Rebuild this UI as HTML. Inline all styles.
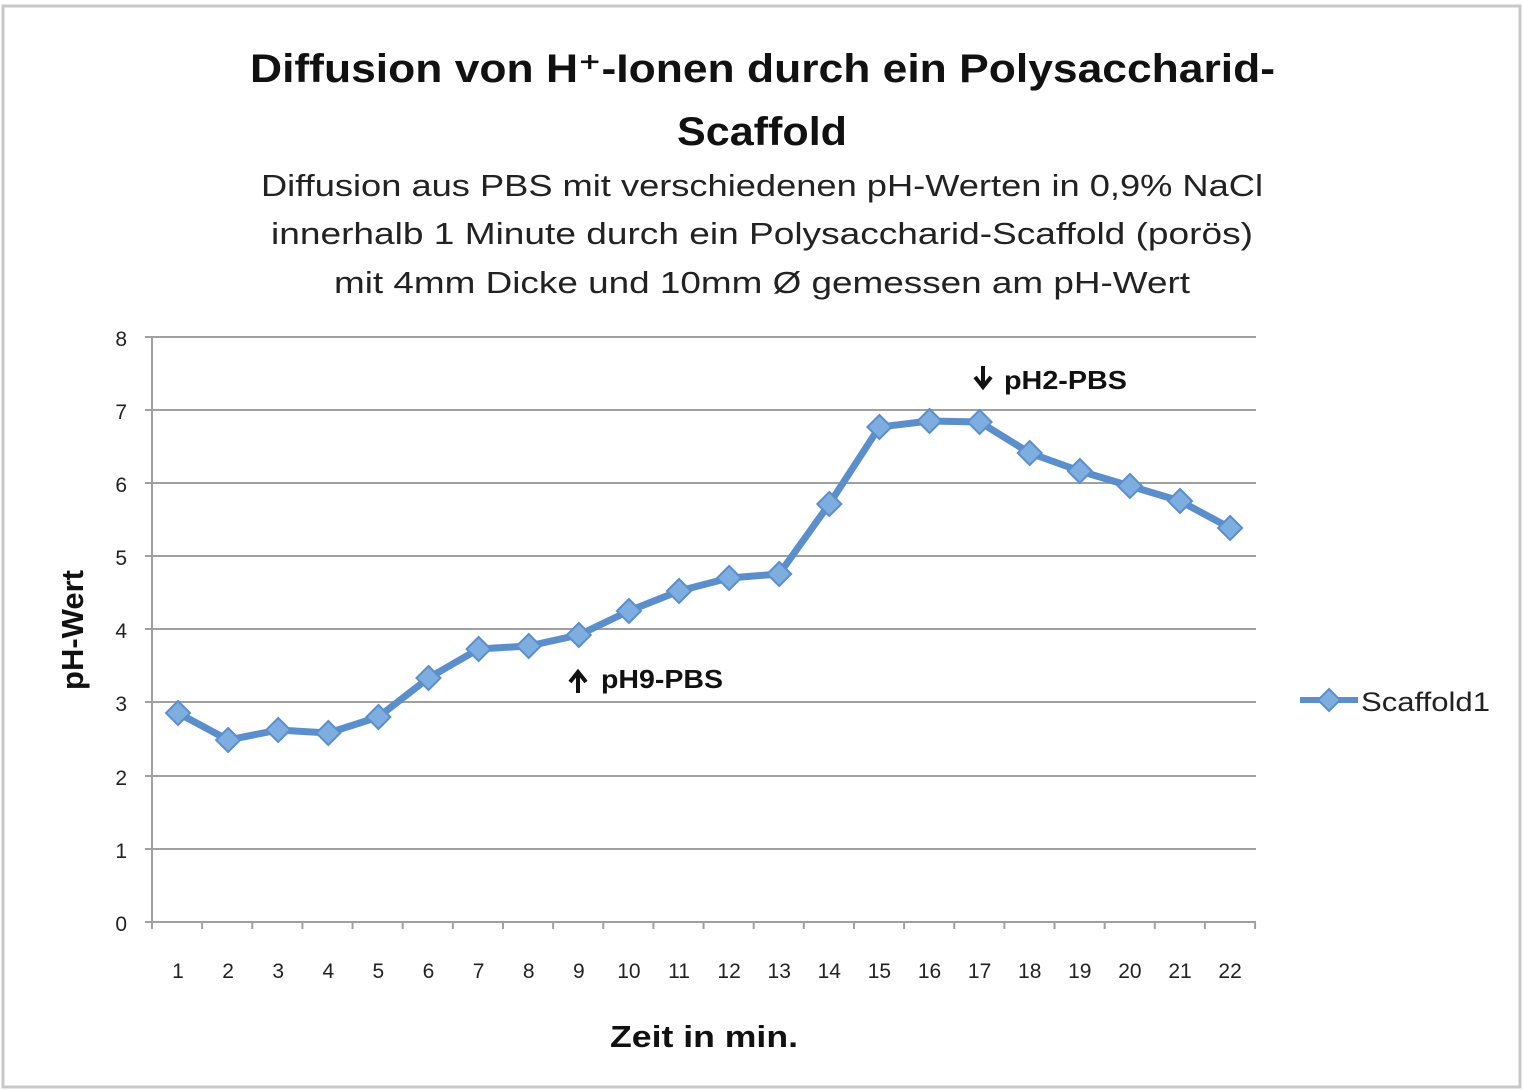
<!DOCTYPE html>
<html><head><meta charset="utf-8"><style>
html,body{margin:0;padding:0;background:#fff;}
svg{display:block;font-family:"Liberation Sans","DejaVu Sans",sans-serif;}
</style></head><body>
<svg width="1523" height="1090" viewBox="0 0 1523 1090" xmlns="http://www.w3.org/2000/svg">
<rect x="0" y="0" width="1523" height="1090" fill="#fff"/>
<rect x="3" y="6" width="1517" height="1081" fill="none" stroke="#c8c8c8" stroke-width="3"/>
<text x="250" y="82" textLength="1025" lengthAdjust="spacingAndGlyphs" font-size="40" font-weight="bold" fill="#111">Diffusion von H⁺-Ionen durch ein Polysaccharid-</text>
<text x="677" y="145" textLength="170" lengthAdjust="spacingAndGlyphs" font-size="40" font-weight="bold" fill="#111">Scaffold</text>
<text x="261" y="196" textLength="1002" lengthAdjust="spacingAndGlyphs" font-size="31" fill="#222">Diffusion aus PBS mit verschiedenen pH-Werten in 0,9% NaCl</text>
<text x="271" y="244" textLength="982" lengthAdjust="spacingAndGlyphs" font-size="31" fill="#222">innerhalb 1 Minute durch ein Polysaccharid-Scaffold (porös)</text>
<text x="334" y="293" textLength="856" lengthAdjust="spacingAndGlyphs" font-size="31" fill="#222">mit 4mm Dicke und 10mm Ø gemessen am pH-Wert</text>
<g stroke="#a0a0a0" stroke-width="2">
<line x1="145" y1="337" x2="1256" y2="337"/>
<line x1="145" y1="410" x2="1256" y2="410"/>
<line x1="145" y1="483" x2="1256" y2="483"/>
<line x1="145" y1="556" x2="1256" y2="556"/>
<line x1="145" y1="629" x2="1256" y2="629"/>
<line x1="145" y1="702" x2="1256" y2="702"/>
<line x1="145" y1="776" x2="1256" y2="776"/>
<line x1="145" y1="849" x2="1256" y2="849"/>
<line x1="145" y1="922" x2="1256" y2="922"/>
<line x1="152" y1="337" x2="152" y2="929"/>
</g>
<g stroke="#a0a0a0" stroke-width="2" id="ticks"></g>
<g font-size="21" fill="#222" text-anchor="end">
<text x="127" y="346">8</text><text x="127" y="419">7</text><text x="127" y="492">6</text><text x="127" y="565">5</text><text x="127" y="638">4</text><text x="127" y="711">3</text><text x="127" y="785">2</text><text x="127" y="858">1</text><text x="127" y="931">0</text>
</g>
<g font-size="21" fill="#222" text-anchor="middle" id="xl"></g>
<text x="610" y="1047" textLength="188" lengthAdjust="spacingAndGlyphs" font-size="31" font-weight="bold" fill="#111">Zeit in min.</text>
<text transform="translate(83,630) rotate(-90)" text-anchor="middle" font-size="31" font-weight="bold" fill="#111">pH-Wert</text>
<polyline id="ln" fill="none" stroke="#5b8fcc" stroke-width="7" stroke-linejoin="round"/>
<g id="mk" fill="#7eaee0" stroke="#5b8fcc" stroke-width="2"></g>
<path d="M983,366 V384 M975,377 L983,387 L991,377" fill="none" stroke="#111" stroke-width="4"/>
<text x="1004" y="389" textLength="123" lengthAdjust="spacingAndGlyphs" font-size="26" font-weight="bold" fill="#111">pH2-PBS</text>
<path d="M578,693 V675 M570,682 L578,672 L586,682" fill="none" stroke="#111" stroke-width="4"/>
<text x="601" y="688" textLength="122" lengthAdjust="spacingAndGlyphs" font-size="26" font-weight="bold" fill="#111">pH9-PBS</text>
<line x1="1300" y1="700" x2="1358" y2="700" stroke="#5b8fcc" stroke-width="6"/>
<polygon points="1329,689 1340,700 1329,711 1318,700" fill="#7eaee0" stroke="#5b8fcc" stroke-width="2"/>
<text x="1361" y="711" textLength="129" lengthAdjust="spacingAndGlyphs" font-size="27" fill="#222">Scaffold1</text>
</svg>
<script>
var ys=[713,740,730,733,717,678,649,646,635,611,591,578,574,504,427,421,422,453,471,486,501,528];
var ns="http://www.w3.org/2000/svg",pts=[],mk=document.getElementById('mk'),xl=document.getElementById('xl'),tk=document.getElementById('ticks');
for(var i=0;i<=22;i++){var tx=152+50.14*i;var l=document.createElementNS(ns,'line');l.setAttribute('x1',tx);l.setAttribute('x2',tx);l.setAttribute('y1',922);l.setAttribute('y2',929);tk.appendChild(l);}
ys.forEach(function(y,i){var x=178+50.1*i;pts.push(x+','+y);
var p=document.createElementNS(ns,'polygon');p.setAttribute('points',x+','+(y-12)+' '+(x+12)+','+y+' '+x+','+(y+12)+' '+(x-12)+','+y);mk.appendChild(p);
var t=document.createElementNS(ns,'text');t.setAttribute('x',x);t.setAttribute('y',978);t.textContent=i+1;xl.appendChild(t);});
document.getElementById('ln').setAttribute('points',pts.join(' '));
</script>
</body></html>
